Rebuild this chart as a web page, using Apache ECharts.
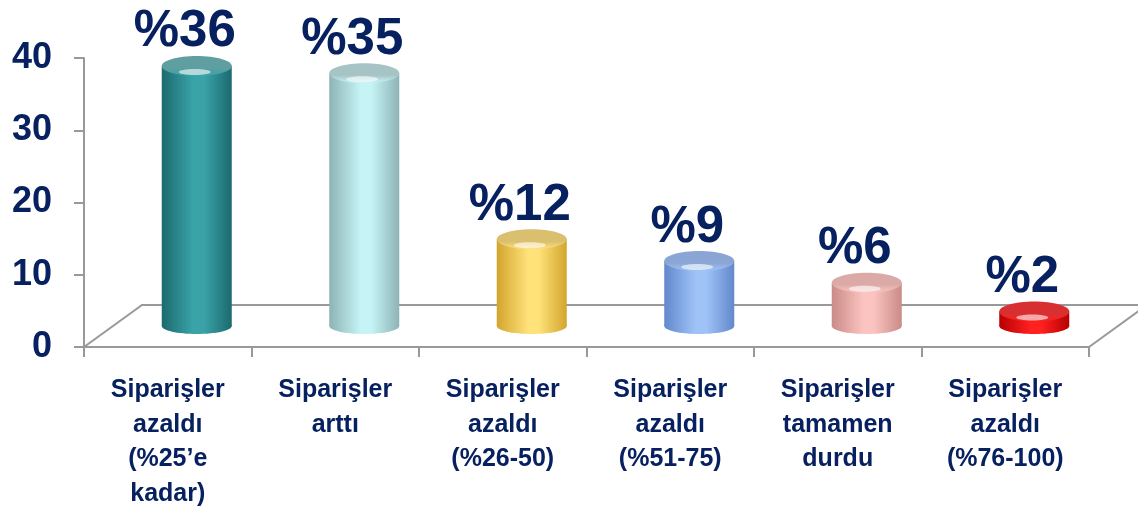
<!DOCTYPE html>
<html style="height: 100%">
<head>
    <meta charset="utf-8">
    <title>Siparişler</title>
</head>
<body style="height: 100%; margin: 0; background: #fff;">
<div id="container" style="width: 1138px; height: 515px"></div>
<script src="https://cdn.jsdelivr.net/npm/echarts@6/dist/echarts.min.js"></script>
<script type="text/javascript">

    var categories = [
        'Siparişler\nazaldı\n(%25’e\nkadar)',
        'Siparişler\narttı',
        'Siparişler\nazaldı\n(%26-50)',
        'Siparişler\nazaldı\n(%51-75)',
        'Siparişler\ntamamen\ndurdu',
        'Siparişler\nazaldı\n(%76-100)'
    ];
    var values = [36, 35, 12, 9, 6, 2];
    var valueLabels = ['%36', '%35', '%12', '%9', '%6', '%2'];
    var yTicks = [0, 10, 20, 30, 40];

    // cylinder colours: [edge, light, top back]
    var palette = [
        ['#1b6a6e', '#3aa3a8', '#5f9ea1'],
        ['#8db3b5', '#c6f4f6', '#a6c4c6'],
        ['#d2a52c', '#ffe27a', '#d9bf6e'],
        ['#6388cc', '#9fc3f7', '#8ba6d4'],
        ['#c98b87', '#fbc4c0', '#dcaaa6'],
        ['#b80000', '#ff2020', '#d83030']
    ];

    var navy = '#062060';
    var depthX = 58, depthY = -42;
    var barW = 70, capR = 10;

    var dom = document.getElementById("container");
    var myChart = echarts.init(dom);

    function bodyGradient(c) {
        return new echarts.graphic.LinearGradient(0, 0, 1, 0, [
            {offset: 0, color: c[0]},
            {offset: 0.45, color: c[1]},
            {offset: 0.6, color: c[1]},
            {offset: 1, color: c[0]}
        ]);
    }

    function renderFloor(params, api) {
        var cs = params.coordSys;
        var y0 = api.coord([0, 0])[1];
        var x0 = cs.x, x1 = cs.x + cs.width;
        return {
            type: 'polyline',
            silent: true,
            shape: {
                points: [
                    [x0, y0], [x0 + depthX, y0 + depthY],
                    [x1 + depthX, y0 + depthY], [x1, y0]
                ]
            },
            style: {stroke: '#999', lineWidth: 2, fill: null}
        };
    }

    function renderBar(params, api) {
        var i = api.value(0);
        var base = api.coord([i, 0]);
        var top = api.coord([i, api.value(1)]);
        var cx = base[0] + depthX / 2;
        var yb = base[1] + depthY / 2;
        var yt = top[1] + depthY / 2;
        var c = palette[i];
        var grad = bodyGradient(c);
        return {
            type: 'group',
            children: [
                {
                    type: 'ellipse',
                    shape: {cx: cx, cy: yb, rx: barW / 2, ry: capR - 2},
                    style: {fill: grad}
                },
                {
                    type: 'rect',
                    shape: {x: cx - barW / 2, y: yt, width: barW, height: yb - yt},
                    style: {fill: grad}
                },
                {
                    type: 'ellipse',
                    shape: {cx: cx, cy: yt, rx: barW / 2, ry: capR},
                    style: {
                        fill: new echarts.graphic.LinearGradient(0, 0, 0, 1, [
                            {offset: 0, color: c[2]},
                            {offset: 0.6, color: c[2]},
                            {offset: 1, color: c[1]}
                        ])
                    }
                },
                {
                    type: 'ellipse',
                    shape: {cx: cx - 2, cy: yt + capR - 4, rx: 16, ry: 3},
                    style: {fill: 'rgba(255,255,255,0.6)'}
                },
                {
                    type: 'text',
                    style: {
                        text: valueLabels[i],
                        x: cx - 12,
                        y: yt - capR + 2,
                        align: 'center',
                        verticalAlign: 'bottom',
                        fill: navy,
                        font: 'bold 51px "Liberation Sans", Arial, sans-serif'
                    }
                }
            ]
        };
    }

    var option = {
        backgroundColor: '#fff',
        animation: false,
        grid: {
            left: 84,
            right: 49,
            top: 58,
            bottom: 168
        },
        xAxis: {
            type: 'category',
            data: categories,
            axisLine: {lineStyle: {color: '#999', width: 2}},
            axisTick: {show: true, length: 10, lineStyle: {color: '#999', width: 2}},
            axisLabel: {
                interval: 0,
                margin: 26,
                color: navy,
                fontSize: 25,
                fontWeight: 'bold',
                lineHeight: 34.5,
                fontFamily: '"Liberation Sans", Arial, sans-serif'
            }
        },
        yAxis: {
            type: 'value',
            min: yTicks[0],
            max: yTicks[yTicks.length - 1],
            interval: 10,
            splitLine: {show: false},
            axisLine: {show: true, lineStyle: {color: '#999', width: 2}},
            axisTick: {show: true, length: 10, lineStyle: {color: '#999', width: 2}},
            axisLabel: {
                margin: 32,
                color: navy,
                fontSize: 36,
                fontWeight: 'bold',
                fontFamily: '"Liberation Sans", Arial, sans-serif'
            }
        },
        series: [
            {
                type: 'custom',
                name: 'floor',
                renderItem: renderFloor,
                data: [[0, 0]],
                z: 1,
                silent: true
            },
            {
                type: 'custom',
                name: 'bars',
                renderItem: renderBar,
                encode: {x: 0, y: 1},
                data: values.map(function (v, i) { return [i, v]; }),
                z: 2
            }
        ]
    };
    myChart.setOption(option, true);

</script>
</body>
</html>
